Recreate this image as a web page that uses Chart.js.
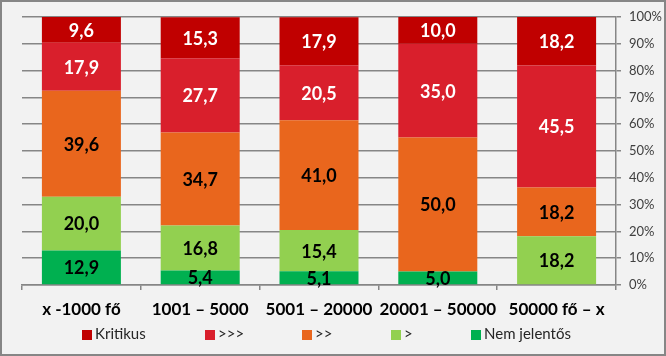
<!DOCTYPE html>
<html><head><meta charset="utf-8">
<script src="https://cdn.jsdelivr.net/npm/chart.js@4/dist/chart.umd.min.js"></script>
<style>html,body{margin:0;padding:0;background:#f2f2f2}#wrap{width:666px;height:356px;position:relative}</style>
</head><body><div id="wrap"><canvas id="c" width="666" height="356"></canvas></div>
<script>
const categories = ['x -1000 fő', '1001 – 5000', '5001 – 20000', '20001 – 50000', '50000 fő – x'];
const nemJelentos = [12.9, 5.4, 5.1, 5.0, 0];
const gt1 = [20.0, 16.8, 15.4, 0, 18.2];
const gt2 = [39.6, 34.7, 41.0, 50.0, 18.2];
const gt3 = [17.9, 27.7, 20.5, 35.0, 45.5];
const kritikus = [9.6, 15.3, 17.9, 10.0, 18.2];
const yTicks = [0, 10, 20, 30, 40, 50, 60, 70, 80, 90, 100];

const FONT = 'Lato, "Open Sans", sans-serif';
const datasets = [
  {label: 'Nem jelentős', data: nemJelentos, backgroundColor: '#00B050', txt: '#000'},
  {label: '>', data: gt1, backgroundColor: '#92D050', txt: '#000'},
  {label: '>>', data: gt2, backgroundColor: '#E9661D', txt: '#000'},
  {label: '>>>', data: gt3, backgroundColor: '#D91F2C', txt: '#fff'},
  {label: 'Kritikus', data: kritikus, backgroundColor: '#C00000', txt: '#fff'}
].map(d => Object.assign(d, {barPercentage: 0.665, categoryPercentage: 1.0, borderWidth: 0}));

const bgPlugin = {
  id: 'bg',
  beforeDraw(chart) {
    const ctx = chart.ctx;
    ctx.save();
    ctx.fillStyle = '#f2f2f2';
    ctx.fillRect(0, 0, chart.width, chart.height);
    ctx.strokeStyle = '#868686';
    ctx.lineWidth = 2;
    ctx.strokeRect(1, 1, chart.width - 2, chart.height - 2);
    ctx.restore();
  }
};

const labelPlugin = {
  id: 'vals',
  afterDatasetsDraw(chart) {
    const ctx = chart.ctx;
    ctx.save();
    ctx.font = 'bold 18px ' + FONT;
    ctx.textAlign = 'center';
    ctx.textBaseline = 'middle';
    chart.data.datasets.forEach((ds, i) => {
      const meta = chart.getDatasetMeta(i);
      meta.data.forEach((el, j) => {
        const v = ds.data[j];
        if (!v) return;
        ctx.fillStyle = ds.txt;
        ctx.fillText(v.toFixed(1).replace('.', ','), el.x, (el.y + el.base) / 2 + 1);
      });
    });
    ctx.restore();
  }
};

const legendOrder = ['Kritikus', '>>>', '>>', '>', 'Nem jelentős'];
const legendX = [82, 205, 302, 391, 471];
const legendPlugin = {
  id: 'customLegend',
  afterDraw(chart) {
    const ctx = chart.ctx;
    ctx.save();
    ctx.font = '15px ' + FONT;
    ctx.textBaseline = 'middle';
    ctx.textAlign = 'left';
    legendOrder.forEach((name, k) => {
      const ds = chart.data.datasets.find(d => d.label === name);
      const x = legendX[k], y = 334;
      ctx.fillStyle = ds.backgroundColor;
      ctx.fillRect(x, y - 4, 10, 10);
      ctx.fillStyle = '#262626';
      ctx.fillText(name, x + 13, y);
    });
    ctx.restore();
  }
};

new Chart(document.getElementById('c'), {
  type: 'bar',
  data: {labels: categories, datasets},
  options: {
    responsive: false,
    animation: false,
    layout: {padding: {left: 22, top: 17, right: 0, bottom: 31}},
    plugins: {legend: {display: false}, tooltip: {enabled: false}},
    scales: {
      x: {
        stacked: true,
        offset: true,
        grid: {display: true, drawOnChartArea: false, drawTicks: true, tickLength: 5, color: '#868686', lineWidth: 1.5, offset: true},
        border: {display: true, color: '#868686', width: 1.5},
        ticks: {color: '#000', font: {family: FONT, size: 17, weight: 'bold'}, padding: 9, maxRotation: 0, autoSkip: false},
        afterFit(s) { s.height = 40; }
      },
      y: {
        stacked: true,
        position: 'right',
        min: 0, max: 100,
        afterBuildTicks(s) { s.ticks = yTicks.map(v => ({value: v})); },
        grid: {color: '#868686', lineWidth: 1.5, tickLength: 5, drawTicks: true},
        border: {display: true, color: '#868686', width: 1.5},
        ticks: {color: '#404040', font: {family: FONT, size: 13}, padding: 8, callback: v => v + '%'},
        afterFit(s) { s.width = 50; }
      }
    }
  },
  plugins: [bgPlugin, labelPlugin, legendPlugin]
});
</script></body></html>
